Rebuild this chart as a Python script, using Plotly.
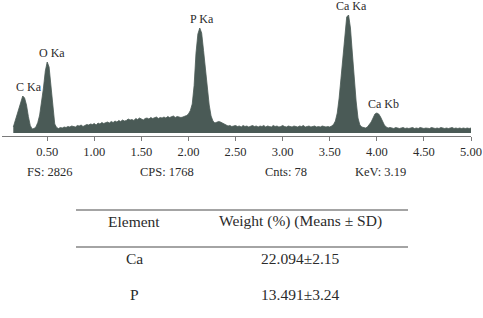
import plotly.graph_objects as go

# ---------------- data ----------------
ENERGY_START = 0.14   # keV, first channel shown
ENERGY_STEP = 0.02    # keV per channel
COUNTS = [
    120, 250, 370, 500, 630, 740, 700, 560, 330, 150,          # 0.14
    80, 90, 120, 210, 360, 600, 900, 1240, 1420, 1320,         # 0.34
    900, 440, 180, 110, 90, 110, 100, 120, 110, 130,           # 0.54
    120, 140, 130, 120, 150, 140, 160, 130, 150, 170,          # 0.74
    160, 180, 170, 190, 160, 200, 180, 210, 190, 200,          # 0.94
    220, 200, 230, 210, 240, 220, 250, 230, 260, 240,          # 1.14
    250, 280, 260, 270, 250, 290, 270, 300, 280, 260,          # 1.34
    290, 300, 280, 310, 290, 300, 320, 290, 310, 300,          # 1.54
    320, 300, 330, 310, 320, 340, 310, 330, 320, 310,          # 1.74
    320, 330, 350, 380, 450, 580, 950, 1600, 1980, 2100,       # 1.94
    2000, 1650, 1250, 850, 560, 340, 240, 200, 210, 230,       # 2.14
    220, 200, 180, 150, 140, 150, 130, 140, 150, 130,          # 2.34
    140, 120, 150, 130, 140, 120, 130, 150, 130, 140,          # 2.54
    120, 140, 130, 150, 120, 140, 130, 120, 150, 130,          # 2.74
    140, 120, 130, 150, 130, 120, 140, 130, 120, 140,          # 2.94
    130, 120, 140, 130, 150, 120, 130, 140, 120, 130,          # 3.14
    140, 120, 130, 120, 140, 130, 120, 130, 120, 140,          # 3.34
    170, 240, 400, 700, 1100, 1600, 2040, 2320, 2360, 2100,    # 3.54
    1600, 1100, 640, 300, 160, 120, 110, 100, 120, 160,        # 3.74
    220, 300, 380, 400, 380, 320, 240, 160, 120, 100,          # 3.94
    110, 100, 90, 110, 100, 90, 100, 110, 90, 100,             # 4.14
    90, 100, 110, 90, 100, 90, 110, 100, 90, 100,              # 4.34
    100, 90, 110, 100, 90, 100, 90, 110, 100, 90,              # 4.54
    100, 90, 100, 110, 90, 100, 90, 100, 90, 100,              # 4.74
    90, 100, 90, 100,                                          # 4.94
]
ENERGY = [round(ENERGY_START + i * ENERGY_STEP, 2) for i in range(len(COUNTS))]

PEAK_LABELS = ["C Ka", "O Ka", "P Ka", "Ca Ka", "Ca Kb"]
PEAK_ENERGY = [0.24, 0.50, 2.12, 3.70, 4.00]

TICK_VALUES = [0.5, 1.0, 1.5, 2.0, 2.5, 3.0, 3.5, 4.0, 4.5, 5.0]
TICK_LABELS = ["0.50", "1.00", "1.50", "2.00", "2.50", "3.00", "3.50", "4.00", "4.50", "5.00"]

FOOTER_TEXT = ["FS: 2826", "CPS: 1768", "Cnts: 78", "KeV: 3.19"]

TABLE_HEADER = ["Element", "Weight (%) (Means ± SD)"]
TABLE_ELEMENTS = ["Ca", "P"]
TABLE_WEIGHTS = ["22.094±2.15", "13.491±3.24"]

# ---------------- layout helpers ----------------
W, H = 483, 318
L, R, T, B = 2, 12, 4, 182
PW, PH = W - L - R, H - T - B

def px_x(px):
    return (px - L) / PW

def px_y(py):
    return (H - B - py) / PH

SERIF = "Liberation Serif, Times New Roman, serif"
TXT = "#2b2b2b"
FILL = "#4a5a56"
LABEL_DX = [6, 5, 2, 3, 7]

fig = go.Figure()
fig.add_trace(go.Scatter(
    x=ENERGY, y=COUNTS, mode="lines", fill="tozeroy",
    line=dict(color=FILL, width=0.8), fillcolor=FILL, hoverinfo="skip",
    showlegend=False,
))

annotations = []
lookup = dict(zip(ENERGY, COUNTS))
for lab, e, dx in zip(PEAK_LABELS, PEAK_ENERGY, LABEL_DX):
    annotations.append(dict(
        x=e, y=lookup[round(e, 2)], xref="x", yref="y", text=lab, showarrow=False,
        xanchor="center", yanchor="bottom", xshift=dx, yshift=0,
        font=dict(family=SERIF, size=12, color=TXT),
    ))

footer_px = [25, 138, 263, 353]
for t, x in zip(FOOTER_TEXT, footer_px):
    annotations.append(dict(
        x=px_x(x), y=px_y(172), xref="paper", yref="paper", text=t, showarrow=False,
        xanchor="left", yanchor="middle", font=dict(family=SERIF, size=12.5, color=TXT),
    ))

col_px = [134, 300]
for t, x in zip(TABLE_HEADER, col_px):
    annotations.append(dict(
        x=px_x(x), y=px_y(221), xref="paper", yref="paper", text=t, showarrow=False,
        xanchor="center", yanchor="middle", font=dict(family=SERIF, size=15.5, color=TXT),
    ))
row_py = [258, 294]
for el, wt, py in zip(TABLE_ELEMENTS, TABLE_WEIGHTS, row_py):
    for t, x in zip([el, wt], col_px):
        annotations.append(dict(
            x=px_x(x), y=px_y(py), xref="paper", yref="paper", text=t, showarrow=False,
            xanchor="center", yanchor="middle", font=dict(family=SERIF, size=15.5, color=TXT),
        ))

shapes = []
for py in [210, 247]:
    shapes.append(dict(
        type="line", xref="paper", yref="paper",
        x0=px_x(76), x1=px_x(408), y0=px_y(py), y1=px_y(py),
        line=dict(color="#4a4a4a", width=1.2),
    ))

fig.update_layout(
    width=W, height=H, margin=dict(l=L, r=R, t=T, b=B),
    paper_bgcolor="white", plot_bgcolor="white",
    xaxis=dict(
        range=[0.02, 5.0], tickvals=TICK_VALUES, ticktext=TICK_LABELS,
        showline=True, linecolor="#7a7a7a", linewidth=1.2,
        ticks="outside", ticklen=4, tickcolor="#7a7a7a", tickwidth=1,
        showgrid=False, zeroline=False, ticklabelstandoff=0,
        tickfont=dict(family=SERIF, size=12.5, color=TXT),
    ),
    yaxis=dict(range=[-60, 2580], visible=False, showgrid=False, zeroline=False),
    annotations=annotations, shapes=shapes,
)

fig.write_html("out.html")
